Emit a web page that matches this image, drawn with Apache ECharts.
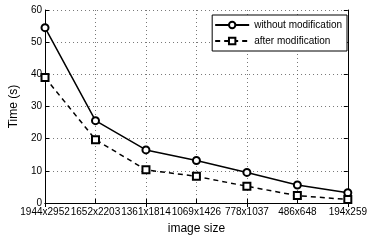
<!DOCTYPE html>
<html>
<head>
<meta charset="utf-8">
<script src="https://cdn.jsdelivr.net/npm/echarts@6/dist/echarts.min.js"></script>
<style>
html, body { margin: 0; padding: 0; background: #fff; }
#main { width: 370px; height: 240px; }
</style>
</head>
<body>
<div id="main"></div>
<script>
// 数据
var sizes = ['1944x2952', '1652x2203', '1361x1814', '1069x1426', '778x1037', '486x648', '194x259'];
var withoutMod = [54.5, 25.6, 16.5, 13.2, 9.5, 5.6, 3.2];
var afterMod = [39.0, 19.7, 10.3, 8.3, 5.2, 2.3, 1.1];

var chart = echarts.init(document.getElementById('main'));
var font = 'Arial, "Liberation Sans", sans-serif';

chart.setOption({
    animation: false,
    textStyle: { fontFamily: font },
    grid: { left: 43, right: 20, top: 10, bottom: 32, containLabel: false },
    legend: {
        right: 23, top: 15,
        orient: 'vertical',
        backgroundColor: '#fff',
        borderColor: '#000', borderWidth: 1, borderRadius: 0,
        padding: [5, 5, 5, 2],
        itemGap: 6, itemWidth: 34, itemHeight: 8,
        textStyle: { fontSize: 10, color: '#000', fontFamily: font },
        data: ['without modification', 'after modification']
    },
    xAxis: [{
        type: 'category',
        data: sizes,
        boundaryGap: false,
        name: 'image size',
        nameLocation: 'middle',
        nameGap: 20,
        nameTextStyle: { fontSize: 12, color: '#000', fontFamily: font },
        axisLine: { lineStyle: { color: '#000', width: 1 } },
        axisTick: { inside: true, length: 4, lineStyle: { color: '#000' } },
        axisLabel: { fontSize: 10, color: '#000', margin: 4, interval: 0, fontFamily: font },
        splitLine: { show: true, lineStyle: { color: '#555', type: [1, 3], width: 0.8 } }
    }, {
        type: 'category',
        data: sizes,
        boundaryGap: false,
        position: 'top',
        axisLine: { lineStyle: { color: '#000', width: 1 } },
        axisTick: { inside: true, length: 4, lineStyle: { color: '#000' } },
        axisLabel: { show: false },
        splitLine: { show: false }
    }],
    yAxis: [{
        type: 'value',
        min: 0, max: 60, interval: 10,
        name: 'Time (s)',
        nameLocation: 'middle',
        nameGap: 24,
        nameTextStyle: { fontSize: 12, color: '#000', fontFamily: font },
        axisLine: { show: true, lineStyle: { color: '#000', width: 1 } },
        axisTick: { show: true, inside: true, length: 4, lineStyle: { color: '#000' } },
        axisLabel: { fontSize: 10, color: '#000', margin: 3, fontFamily: font },
        splitLine: { show: true, lineStyle: { color: '#555', type: [1, 3], width: 0.8 } }
    }, {
        type: 'value',
        min: 0, max: 60, interval: 10,
        position: 'right',
        axisLine: { show: true, lineStyle: { color: '#000', width: 1 } },
        axisTick: { show: true, inside: true, length: 4, lineStyle: { color: '#000' } },
        axisLabel: { show: false },
        splitLine: { show: false }
    }],
    series: [{
        name: 'without modification',
        type: 'line',
        data: withoutMod,
        symbol: 'emptyCircle',
        symbolSize: 7,
        itemStyle: { color: '#000', borderWidth: 1.3 },
        lineStyle: { color: '#000', width: 1.5, type: 'solid' }
    }, {
        name: 'after modification',
        type: 'line',
        data: afterMod,
        symbol: 'emptyRect',
        symbolSize: 7,
        itemStyle: { color: '#000', borderWidth: 1.3 },
        lineStyle: { color: '#000', width: 1.5, type: [5, 4] }
    }]
});
</script>
</body>
</html>
